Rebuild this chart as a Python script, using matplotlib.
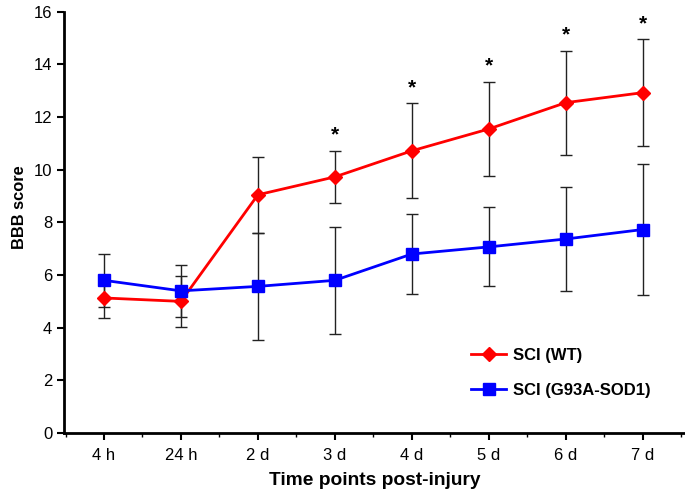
import matplotlib
matplotlib.use("Agg")
import matplotlib.pyplot as plt
import numpy as np
from matplotlib.ticker import MultipleLocator

plt.rcParams["font.family"] = ["Liberation Sans", "DejaVu Sans"]

time_labels = ["4 h", "24 h", "2 d", "3 d", "4 d", "5 d", "6 d", "7 d"]
wt_mean = [5.13, 5.0, 9.05, 9.73, 10.72, 11.55, 12.55, 12.93]
wt_err = [0.75, 0.97, 1.45, 1.0, 1.8, 1.8, 1.97, 2.03]
sod_mean = [5.8, 5.4, 5.57, 5.8, 6.8, 7.07, 7.37, 7.73]
sod_err = [1.0, 0.99, 2.03, 2.03, 1.53, 1.5, 1.98, 2.5]
star_idx = [3, 4, 5, 6, 7]

x = np.arange(len(time_labels))

fig = plt.figure(figsize=(6.85, 4.94), dpi=100)
ax = fig.add_axes([0.0934, 0.1235, 0.9066, 0.8525])

ekw = dict(ecolor="#222222", elinewidth=1.0, capsize=4, capthick=1.0)
ax.errorbar(x, sod_mean, yerr=sod_err, fmt="none", zorder=2, **ekw)
ax.errorbar(x, wt_mean, yerr=wt_err, fmt="none", zorder=2, **ekw)
ax.plot(x, wt_mean, color="#ff0000", lw=2, marker="D", ms=7.5, zorder=3, label="SCI (WT)")
ax.plot(x, sod_mean, color="#0000ff", lw=2, marker="s", ms=9, zorder=3, label="SCI (G93A-SOD1)")

# significance markers above WT error bars
for i in star_idx:
    ax.text(x[i], wt_mean[i] + wt_err[i] + 0.6, "*", ha="center", va="center",
            fontsize=15, fontweight="bold")

ax.set_xlim(-0.52, 7.55)
ax.set_ylim(0, 16)
ax.set_xticks(x)
ax.set_xticklabels(time_labels)
ax.xaxis.set_minor_locator(MultipleLocator(0.5))
ax.yaxis.set_major_locator(MultipleLocator(2))
ax.tick_params(axis="both", which="major", direction="out", length=5, width=1.5, labelsize=12)
ax.tick_params(axis="x", which="minor", direction="out", length=3, width=1)
ax.tick_params(axis="x", pad=6)
for s in ["top", "right"]:
    ax.spines[s].set_visible(False)
for s in ["left", "bottom"]:
    ax.spines[s].set_linewidth(2)

ax.set_xlabel("Time points post-injury", fontsize=13.8, fontweight="bold", labelpad=6)
ax.set_ylabel("BBB score", fontsize=11.8, fontweight="bold")
ax.yaxis.set_label_coords(-0.060, 0.537)

ax.legend(loc="center left", bbox_to_anchor=(0.632, 0.142), frameon=False,
          prop={"weight": "bold", "size": 12}, handlelength=2.1, handletextpad=0.4,
          labelspacing=1.2)

fig.savefig("out.png", dpi=100)
